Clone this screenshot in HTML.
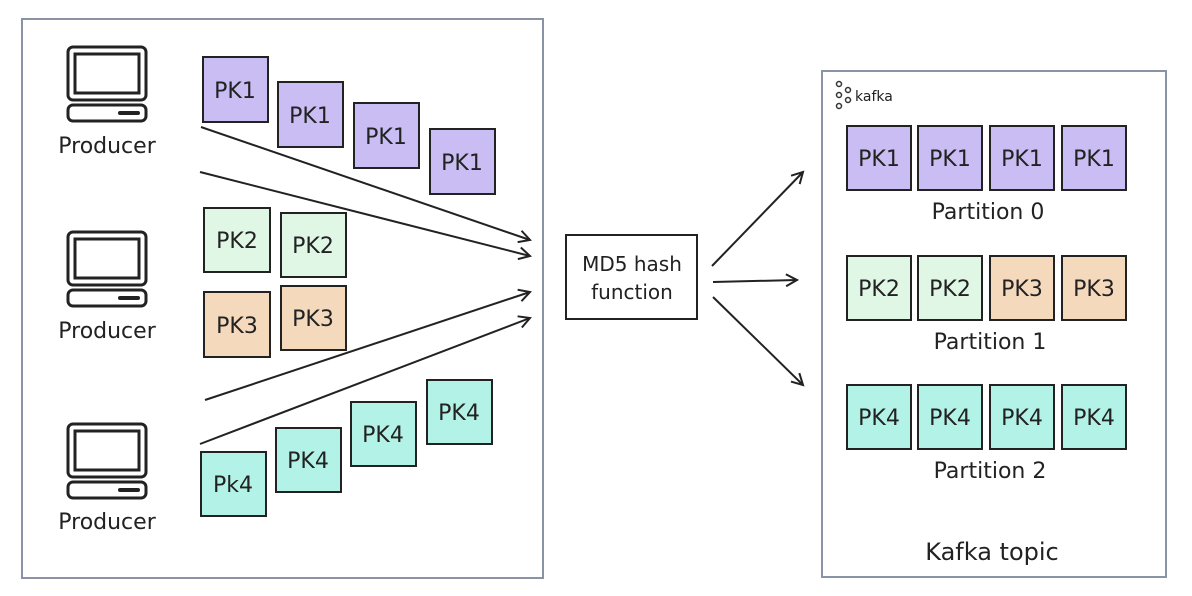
<!DOCTYPE html>
<html><head><meta charset="utf-8"><style>
html,body{margin:0;padding:0;background:#fff}
svg{display:block}
text{font-family:"DejaVu Sans","Liberation Sans",sans-serif;fill:#222}
</style></head><body>
<svg width="1192" height="596" viewBox="0 0 1192 596" xmlns="http://www.w3.org/2000/svg">
<defs>
<marker id="ah" markerWidth="14" markerHeight="14" refX="12" refY="7" orient="auto" markerUnits="userSpaceOnUse">
<path d="M1,1 L12,7 L1,13" fill="none" stroke="#222" stroke-width="2"/>
</marker>
<g id="mon">
<rect x="0" y="0" width="78" height="53" rx="5" fill="none" stroke="#222" stroke-width="3"/>
<rect x="7" y="7" width="64" height="39" fill="none" stroke="#222" stroke-width="3"/>
<rect x="0" y="58" width="78" height="16" rx="5" fill="none" stroke="#222" stroke-width="3"/>
<rect x="50" y="64" width="22" height="4" rx="2" fill="#222"/>
</g>
</defs>
<rect x="22" y="19" width="521" height="559" fill="#fff" stroke="#8a93a6" stroke-width="2"/>
<rect x="822" y="71" width="344" height="506" fill="#fff" stroke="#8a93a6" stroke-width="2"/>

<use href="#mon" x="68" y="47"/>
<text x="107" y="153" font-size="22" text-anchor="middle">Producer</text>
<use href="#mon" x="68" y="232"/>
<text x="107" y="338" font-size="22" text-anchor="middle">Producer</text>
<use href="#mon" x="68" y="424"/>
<text x="107" y="529" font-size="22" text-anchor="middle">Producer</text>

<g stroke="#222" stroke-width="2">
<rect x="203" y="57" width="65" height="65" fill="#c9bdf3"/>
<rect x="278" y="82" width="65" height="65" fill="#c9bdf3"/>
<rect x="354" y="103" width="65" height="65" fill="#c9bdf3"/>
<rect x="430" y="129" width="65" height="65" fill="#c9bdf3"/>
<rect x="204" y="208" width="66" height="64" fill="#e0f7e6"/>
<rect x="281" y="213" width="65" height="64" fill="#e0f7e6"/>
<rect x="204" y="292" width="66" height="65" fill="#f5d9bd"/>
<rect x="281" y="286" width="65" height="64" fill="#f5d9bd"/>
<rect x="201" y="452" width="65" height="64" fill="#b3f2e6"/>
<rect x="276" y="428" width="65" height="64" fill="#b3f2e6"/>
<rect x="351" y="402" width="65" height="64" fill="#b3f2e6"/>
<rect x="427" y="380" width="65" height="64" fill="#b3f2e6"/>
</g>
<g font-size="22" text-anchor="middle">
<text x="235" y="98">PK1</text>
<text x="310" y="123">PK1</text>
<text x="386" y="144">PK1</text>
<text x="462" y="170">PK1</text>
<text x="237" y="248">PK2</text>
<text x="313" y="253">PK2</text>
<text x="237" y="333">PK3</text>
<text x="313" y="326">PK3</text>
<text x="233" y="492">Pk4</text>
<text x="308" y="468">PK4</text>
<text x="383" y="442">PK4</text>
<text x="459" y="420">PK4</text>
</g>

<g stroke="#222" stroke-width="2" fill="none" marker-end="url(#ah)">
<line x1="201" y1="127" x2="530" y2="240"/>
<line x1="200" y1="172" x2="530" y2="256"/>
<line x1="205" y1="400" x2="530" y2="292"/>
<line x1="200" y1="444" x2="530" y2="318"/>
<line x1="712" y1="266" x2="803" y2="172"/>
<line x1="713" y1="282" x2="797" y2="280"/>
<line x1="713" y1="297" x2="803" y2="385"/>
</g>

<rect x="566" y="235" width="131" height="84" fill="#fff" stroke="#222" stroke-width="2"/>
<text x="632" y="271" font-size="20" text-anchor="middle">MD5 hash</text>
<text x="632" y="299" font-size="20" text-anchor="middle">function</text>

<g fill="none" stroke="#333" stroke-width="1.5">
<circle cx="839" cy="84" r="2.5"/><circle cx="839" cy="95" r="2.5"/><circle cx="839" cy="106" r="2.5"/>
<circle cx="848" cy="90" r="2.5"/><circle cx="848" cy="100" r="2.5"/>
</g>
<text x="855" y="101" font-size="14">kafka</text>

<g stroke="#222" stroke-width="2">
<rect x="847" y="126" width="64" height="64" fill="#c9bdf3"/>
<rect x="918" y="126" width="64" height="64" fill="#c9bdf3"/>
<rect x="990" y="126" width="64" height="64" fill="#c9bdf3"/>
<rect x="1062" y="126" width="64" height="64" fill="#c9bdf3"/>
<rect x="847" y="256" width="64" height="64" fill="#e0f7e6"/>
<rect x="918" y="256" width="64" height="64" fill="#e0f7e6"/>
<rect x="990" y="256" width="64" height="64" fill="#f5d9bd"/>
<rect x="1062" y="256" width="64" height="64" fill="#f5d9bd"/>
<rect x="847" y="385" width="64" height="64" fill="#b3f2e6"/>
<rect x="918" y="385" width="64" height="64" fill="#b3f2e6"/>
<rect x="990" y="385" width="64" height="64" fill="#b3f2e6"/>
<rect x="1062" y="385" width="64" height="64" fill="#b3f2e6"/>
</g>
<g font-size="22" text-anchor="middle">
<text x="879" y="166">PK1</text><text x="950" y="166">PK1</text><text x="1022" y="166">PK1</text><text x="1094" y="166">PK1</text>
<text x="879" y="296">PK2</text><text x="950" y="296">PK2</text><text x="1022" y="296">PK3</text><text x="1094" y="296">PK3</text>
<text x="879" y="425">PK4</text><text x="950" y="425">PK4</text><text x="1022" y="425">PK4</text><text x="1094" y="425">PK4</text>
<text x="988" y="219">Partition 0</text>
<text x="990" y="349">Partition 1</text>
<text x="990" y="478">Partition 2</text>
<text x="992" y="560" font-size="24">Kafka topic</text>
</g>
</svg>
</body></html>
